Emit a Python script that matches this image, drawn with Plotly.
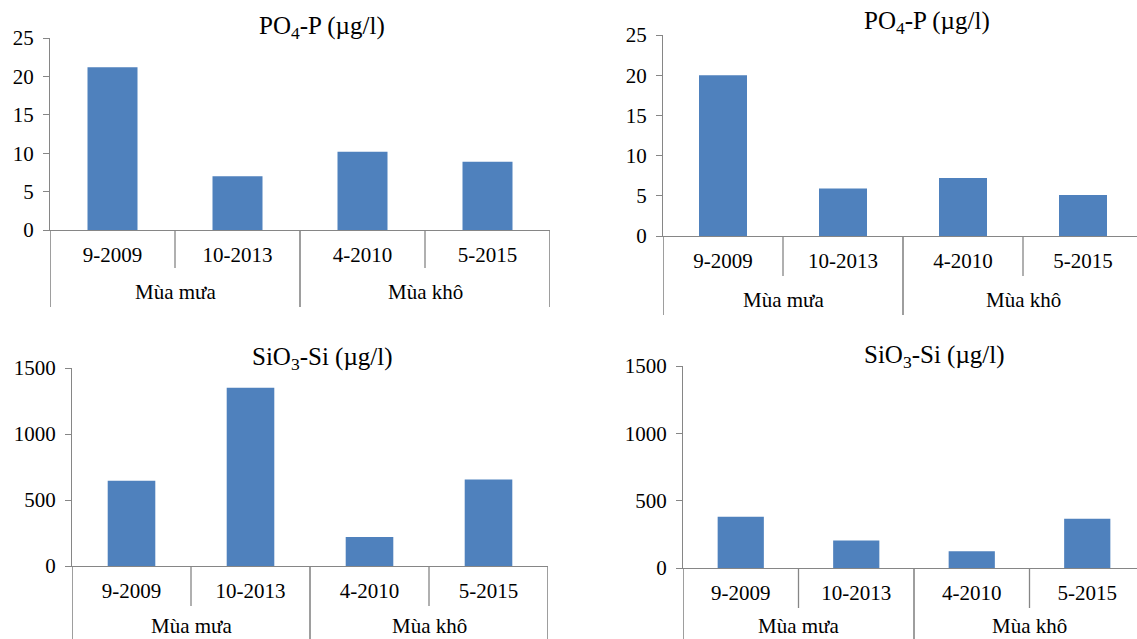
import plotly.graph_objects as go

# ---- data ----
months = ["9-2009", "10-2013", "4-2010", "5-2015"]
seasons = ["Mùa mưa", "Mùa khô"]
po4_left = [21.2, 7.0, 10.2, 8.9]
po4_right = [20.0, 5.9, 7.2, 5.1]
sio3_left = [645, 1350, 220, 655]
sio3_right = [380, 205, 125, 365]

W, H = 1137, 639
BAR = "#4F81BD"
AX = "#868686"
FONT = "Liberation Serif, serif"
TICK_SIZE = 21
TITLE_SIZE = 25

panels = [
    dict(xl=50, cw=125, y0=230, yt=38, ymax=25, dt=5, vals=po4_left,
         title="PO<sub>4</sub>-P (µg/l)", tx=322, ty=28, inner=268, outer=307),
    dict(xl=663, cw=120, y0=236, yt=35, ymax=25, dt=5, vals=po4_right,
         title="PO<sub>4</sub>-P (µg/l)", tx=927, ty=23, inner=276, outer=315),
    dict(xl=72, cw=119, y0=566, yt=368, ymax=1500, dt=500, vals=sio3_left,
         title="SiO<sub>3</sub>-Si (µg/l)", tx=322, ty=358, inner=606, outer=645),
    dict(xl=683, cw=115.5, y0=568, yt=366, ymax=1500, dt=500, vals=sio3_right,
         title="SiO<sub>3</sub>-Si (µg/l)", tx=934, ty=356, inner=608, outer=645),
]

fig = go.Figure()
shapes = []
annotations = []

for i, p in enumerate(panels):
    n = i + 1
    xa = "x" if n == 1 else f"x{n}"
    ya = "y" if n == 1 else f"y{n}"
    xr = p["xl"] + 4 * p["cw"]
    xend = min(xr, W)
    xmax_cat = (xend - p["xl"]) / p["cw"] - 0.5
    fig.add_trace(go.Bar(x=months, y=p["vals"], marker=dict(color=BAR, line=dict(width=0)),
                         width=0.4, xaxis=xa, yaxis=ya, showlegend=False, hoverinfo="x+y"))
    xkey = "xaxis" if n == 1 else f"xaxis{n}"
    ykey = "yaxis" if n == 1 else f"yaxis{n}"
    fig.update_layout(**{
        xkey: dict(domain=[p["xl"] / W, xend / W], anchor=ya, type="category",
                   range=[-0.5, xmax_cat], showline=True, linecolor=AX, linewidth=1.3,
                   showgrid=False, zeroline=False, ticks="outside", ticklen=6,
                   tickcolor="rgba(0,0,0,0)",
                   tickfont=dict(family=FONT, size=TICK_SIZE, color="black"),
                   fixedrange=True, automargin=False),
        ykey: dict(domain=[1 - p["y0"] / H, 1 - p["yt"] / H], anchor=xa,
                   range=[0, p["ymax"]], dtick=p["dt"], showline=True, linecolor=AX, linewidth=1.3,
                   showgrid=False, zeroline=False, ticks="outside", ticklen=6, tickcolor=AX,
                   tickwidth=1.3, ticklabelstandoff=5,
                   tickfont=dict(family=FONT, size=TICK_SIZE, color="black"),
                   fixedrange=True, automargin=False),
    })
    yb_in = 1 - p["inner"] / H
    yb_out = max(1 - p["outer"] / H, 0)
    yz = 1 - p["y0"] / H
    for xv in [0.5, 2.5]:
        shapes.append(dict(type="line", xref=xa, yref="paper", x0=xv, x1=xv, y0=yz, y1=yb_in,
                           line=dict(color=AX, width=1.3)))
    for xv in [-0.5, 1.5, 3.5]:
        shapes.append(dict(type="line", xref=xa, yref="paper", x0=xv, x1=xv, y0=yz, y1=yb_out,
                           line=dict(color=AX, width=1.6)))
    ys_px = min((p["inner"] + p["outer"]) / 2 + 4, 626)
    yseason = 1 - ys_px / H
    for k, s in enumerate(seasons):
        annotations.append(dict(text=s, xref=xa, yref="paper", x=0.5 + 2 * k, y=yseason,
                                showarrow=False, xanchor="center", yanchor="middle",
                                font=dict(family=FONT, size=TICK_SIZE, color="black")))
    annotations.append(dict(text=p["title"], xref="paper", yref="paper", x=p["tx"] / W,
                            y=1 - p["ty"] / H, showarrow=False, xanchor="center",
                            yanchor="middle", font=dict(family=FONT, size=TITLE_SIZE, color="black")))

fig.update_layout(width=W, height=H, margin=dict(l=0, r=0, t=0, b=0),
                  paper_bgcolor="white", plot_bgcolor="white",
                  shapes=shapes, annotations=annotations, bargap=0.6)

fig.write_html("out.html", config={"displayModeBar": False},
               post_script="document.body.style.margin='0';document.body.style.overflow='hidden';")
